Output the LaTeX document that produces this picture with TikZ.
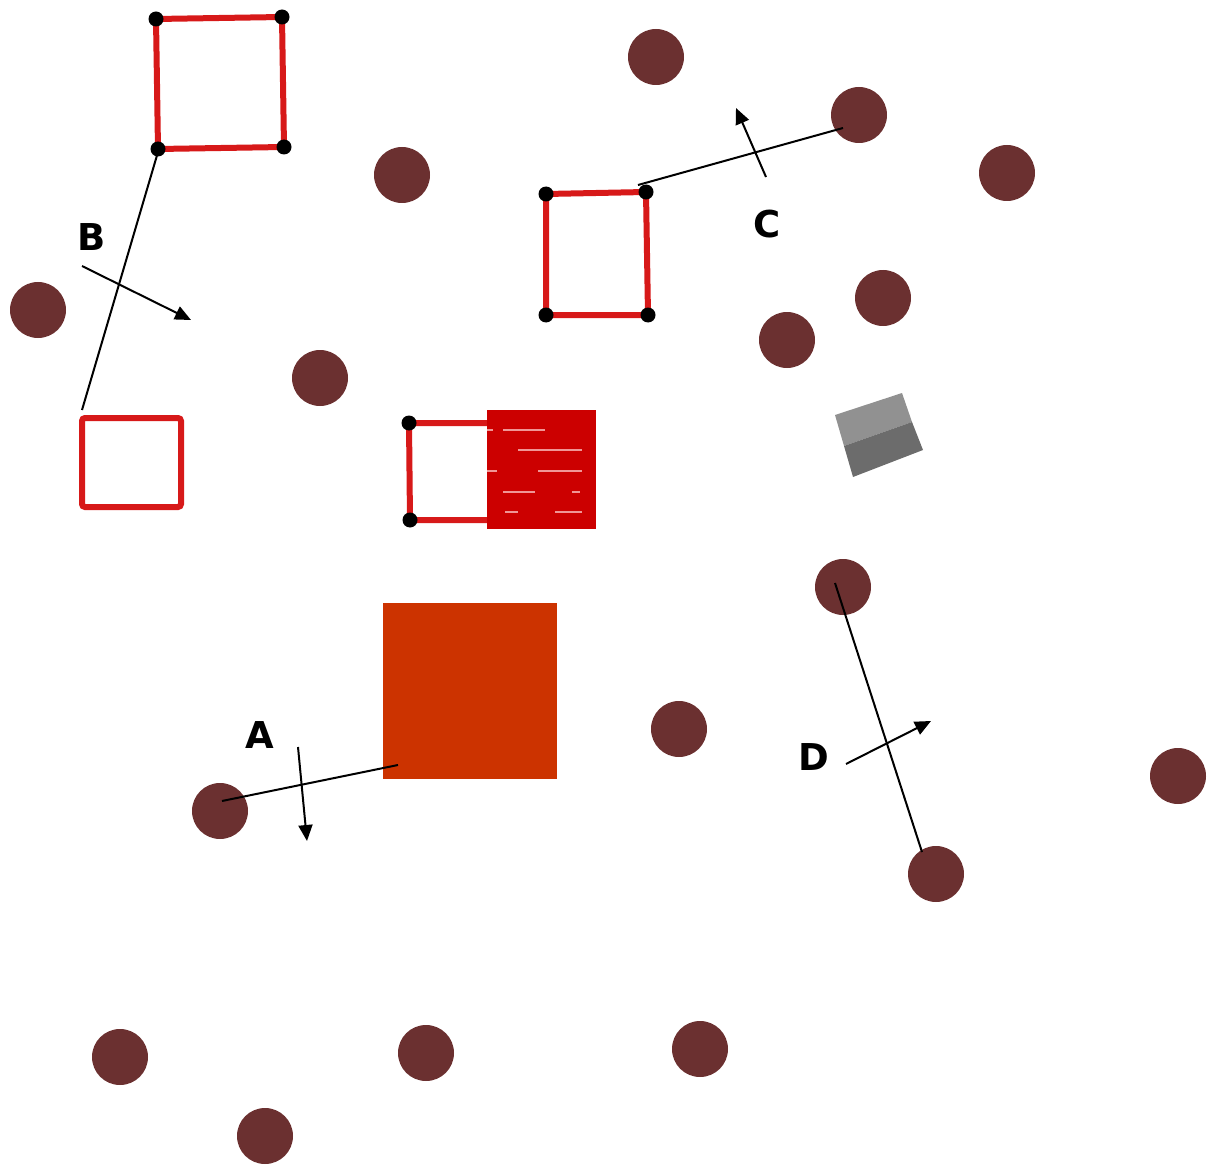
\documentclass[tikz,border=0pt]{standalone}
\usepackage{fontspec}
\setsansfont{DejaVu Sans}
\usetikzlibrary{arrows.meta}

\begin{document}
\begin{tikzpicture}[x=1pt,y=-1pt,
    post/.style={circle,fill=postcol,inner sep=0pt,minimum size=56pt},
    joint/.style={circle,fill=black,inner sep=0pt,minimum size=15pt},
    frame/.style={draw=framecol,line width=6pt},
    ray/.style={line width=2pt},
    dir/.style={line width=2pt,-{Triangle[length=16pt,width=14pt]}},
    tag/.style={font=\sffamily\bfseries\fontsize{37}{44}\selectfont}]
    \definecolor{postcol}{RGB}{107, 48, 48}
    \definecolor{framecol}{RGB}{215, 25, 25}
    \definecolor{fillcol}{RGB}{204, 0, 0}
    \definecolor{blockcol}{RGB}{204, 51, 0}
    \definecolor{dashcol}{RGB}{240, 150, 150}
    \definecolor{cubetop}{RGB}{145, 145, 145}
    \definecolor{cubebot}{RGB}{108, 108, 108}

    \useasboundingbox (0,0) rectangle (1216,1169);

    % posts
    \foreach \n/\x/\y in {p1/656/57, p2/859/115, p3/1007/173, p4/402/175,
        p5/38/310, p6/883/298, p7/787/340, p8/320/378, p9/843/587,
        p10/679/729, p11/220/811, p12/1178/776, p13/936/874,
        p14/120/1057, p15/426/1053, p16/700/1049, p17/265/1136}
        \node[post] (\n) at (\x,\y) {};

    % frames
    \coordinate (fa1) at (156,19);  \coordinate (fa2) at (282,17);
    \coordinate (fa3) at (284,147); \coordinate (fa4) at (158,149);
    \coordinate (fb1) at (546,194); \coordinate (fb2) at (646,192);
    \coordinate (fb3) at (648,315); \coordinate (fb4) at (546,315);
    \coordinate (fc1) at (409,423); \coordinate (fc2) at (410,520);
    \draw[frame] (fa1) -- (fa2) -- (fa3) -- (fa4) -- cycle;
    \draw[frame] (fb1) -- (fb2) -- (fb3) -- (fb4) -- cycle;
    \draw[frame] (489,423) -- (fc1) -- (fc2) -- (489,520);
    \draw[frame,rounded corners=3pt] (82,418) rectangle (181,507);
    \foreach \c in {fa1,fa2,fa3,fa4,fb1,fb2,fb3,fb4,fc1,fc2}
        \node[joint] (j\c) at (\c) {};

    % filled part with the light dashes
    \fill[fillcol] (487,410) rectangle (596,529);
    \begin{scope}[dashcol,line width=2.5pt]
        \draw (487,430) -- (493,430); \draw (503,430) -- (545,430);
        \draw (518,450) -- (582,450);
        \draw (487,471) -- (497,471); \draw (538,471) -- (582,471);
        \draw (503,492) -- (535,492); \draw (572,492) -- (580,492);
        \draw (505,512) -- (518,512); \draw (555,512) -- (582,512);
    \end{scope}

    % block and cube
    \fill[blockcol] (383,603) rectangle (557,779);
    \fill[cubetop] (835,415) -- (902,393) -- (912,422) -- (844,446) -- cycle;
    \fill[cubebot] (844,446) -- (912,422) -- (923,450) -- (853,477) -- cycle;

    % rays
    \coordinate (ra1) at (222,801); \coordinate (ra2) at (398,765);
    \coordinate (rb1) at (158,152); \coordinate (rb2) at (82,410);
    \coordinate (rc1) at (638,185); \coordinate (rc2) at (843,128);
    \coordinate (rd1) at (835,583); \coordinate (rd2) at (922,852);
    \draw[ray] (ra1) -- (ra2);
    \draw[ray] (rb1) -- (rb2);
    \draw[ray] (rc1) -- (rc2);
    \draw[ray] (rd1) -- (rd2);

    % directions
    \coordinate (da1) at (298,747); \coordinate (da2) at (307,841);
    \coordinate (db1) at (82,266);  \coordinate (db2) at (191,320);
    \coordinate (dc1) at (766,177); \coordinate (dc2) at (736,108);
    \coordinate (dd1) at (846,764); \coordinate (dd2) at (931,721);
    \draw[dir] (da1) -- (da2);
    \draw[dir] (db1) -- (db2);
    \draw[dir] (dc1) -- (dc2);
    \draw[dir] (dd1) -- (dd2);

    \node[tag] (la) at (260,735) {A};
    \node[tag] (lb) at (92,237) {B};
    \node[tag] (lc) at (767,224) {C};
    \node[tag] (ld) at (814,757) {D};
\end{tikzpicture}
\end{document}
